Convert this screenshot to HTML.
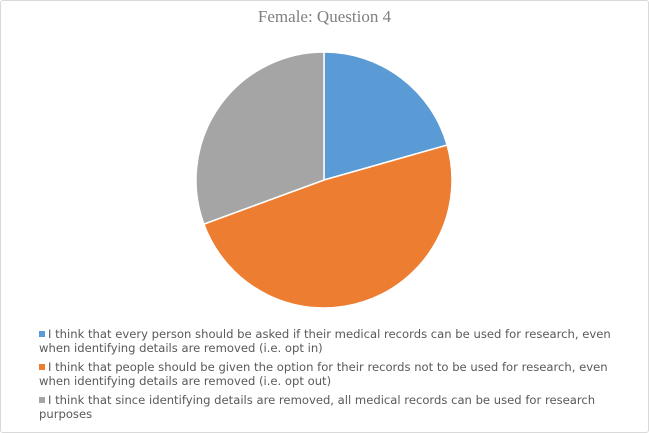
<!DOCTYPE html>
<html><head><meta charset="utf-8"><style>
body{margin:0;background:#fff}
#c{position:relative;width:647px;height:431px;border:1px solid #d9d9d9;border-radius:3px;background:#fff;overflow:hidden}
.title{position:absolute;left:0;width:100%;top:6px;text-align:center;font-family:"Liberation Serif",serif;font-size:17px;color:#808080}
.leg{position:absolute;left:38px;font-family:"DejaVu Sans",sans-serif;font-size:11.6px;color:#595959;line-height:14px;width:605px}
.sw{display:inline-block;width:6px;height:6px;margin-right:3px;vertical-align:1px}
</style></head><body>
<div id="c">
<div class="title">Female: Question 4</div>
<svg id="pie" width="647" height="320" style="position:absolute;left:0;top:0"></svg>
<div class="leg" style="top:326px"><span class="sw" style="background:#5b9bd5"></span>I think that every person should be asked if their medical records can be used for research, even<br>when identifying details are removed (i.e. opt in)</div>
<div class="leg" style="top:359px"><span class="sw" style="background:#ed7d31"></span>I think that people should be given the option for their records not to be used for research, even<br>when identifying details are removed (i.e. opt out)</div>
<div class="leg" style="top:392px"><span class="sw" style="background:#a5a5a5"></span>I think that since identifying details are removed, all medical records can be used for research<br>purposes</div>
</div>
<script>
const categories=["Opt in","Opt out","All used"];
const values=[20.6,48.8,30.6];
const colors=["#5b9bd5","#ed7d31","#a5a5a5"];
const svg=document.getElementById('pie');
const cx=323,cy=179,r=128;
const total=values.reduce((a,b)=>a+b,0);
let a0=0;
values.forEach((v,i)=>{
  const a1=a0+v/total*2*Math.PI;
  const x0=cx+r*Math.sin(a0),y0=cy-r*Math.cos(a0);
  const x1=cx+r*Math.sin(a1),y1=cy-r*Math.cos(a1);
  const large=(a1-a0)>Math.PI?1:0;
  const p=document.createElementNS('http://www.w3.org/2000/svg','path');
  p.setAttribute('d',`M${cx},${cy}L${x0},${y0}A${r},${r} 0 ${large} 1 ${x1},${y1}Z`);
  p.setAttribute('fill',colors[i]);
  p.setAttribute('stroke','#fff');
  p.setAttribute('stroke-width','1.5');
  
  
  svg.appendChild(p);
  a0=a1;
});
</script>
</body></html>
